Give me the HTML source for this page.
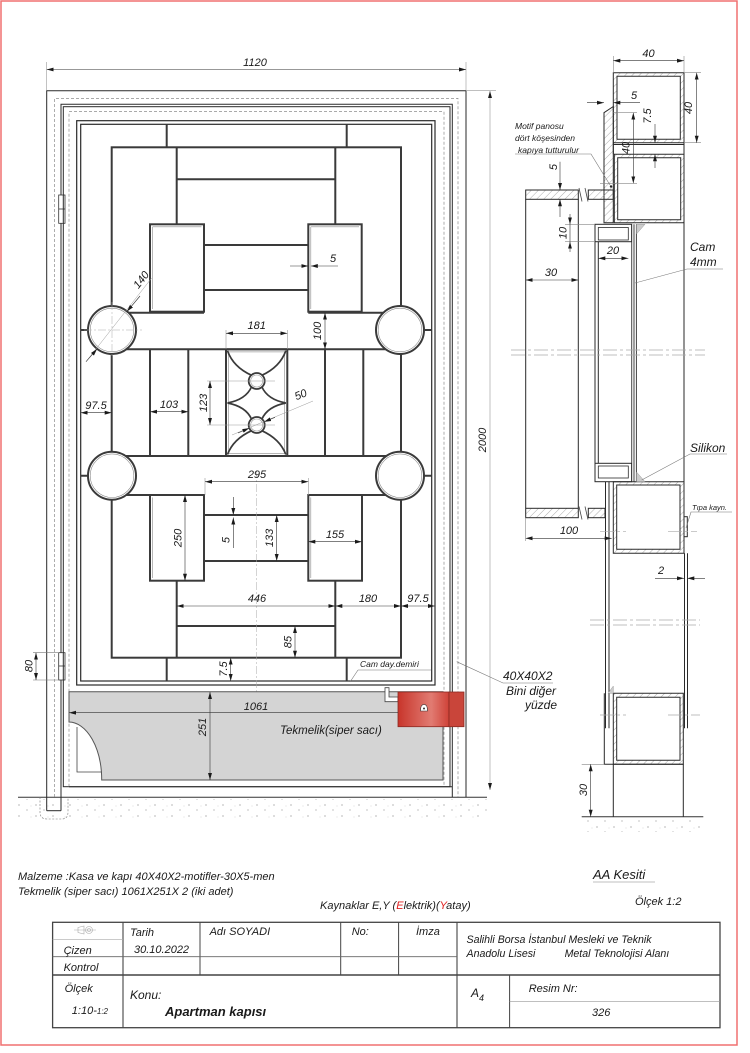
<!DOCTYPE html>
<html><head><meta charset="utf-8">
<style>
html,body{margin:0;padding:0;background:#fff;width:750px;height:1053px;overflow:hidden}
svg{display:block}
text{font-family:"Liberation Sans",sans-serif;font-style:italic;fill:#1a1a1a}
</style></head>
<body>
<svg width="750" height="1053" viewBox="0 0 750 1053" xmlns="http://www.w3.org/2000/svg">
<defs>
<marker id="ar" viewBox="0 0 10 10" refX="10" refY="5" markerWidth="7" markerHeight="7" markerUnits="userSpaceOnUse" orient="auto-start-reverse"><path d="M0,2.2 L10,5 L0,7.8z" fill="#1a1a1a"/></marker>
<pattern id="h" width="5" height="5" patternUnits="userSpaceOnUse" patternTransform="rotate(45)"><line x1="0" y1="0" x2="0" y2="5" stroke="#8a8a8a" stroke-width=".7"/></pattern>
<linearGradient id="red" x1="0" x2="1" y1="0" y2="0"><stop offset="0" stop-color="#c8352b"/><stop offset=".65" stop-color="#e17b72"/><stop offset="1" stop-color="#cf4238"/></linearGradient>
<pattern id="dots" width="17" height="11" patternUnits="userSpaceOnUse"><circle cx="2" cy="2" r=".6" fill="#888"/><circle cx="10" cy="7" r=".6" fill="#999"/><circle cx="14" cy="3" r=".4" fill="#aaa"/></pattern>
</defs>

<!-- page border -->
<rect x="1" y="1" width="736" height="1044" fill="none" stroke="#f07070" stroke-width="1.5"/>

<!-- ================= DOOR ELEVATION ================= -->
<rect x="18" y="799" width="469" height="19" fill="url(#dots)"/>
<line x1="18" y1="797.3" x2="487" y2="797.3" stroke="#333" stroke-width="1"/>
<path d="M40,797 V812 Q40,819 47,819 H62 Q68,819 68,812 V797" fill="none" stroke="#777" stroke-width=".6" stroke-dasharray="2 1.5"/>

<!-- frame -->
<g stroke="#2a2a2a" stroke-width="1" fill="none">
<path d="M46.7,810.7 V90.7 H466 V797.3"/>
<path d="M61,810.7 V104.3 H452.3 V797.3"/>
<path d="M46.7,810.7 H61"/>
</g>
<g stroke="#777" stroke-width=".6" fill="none" stroke-dasharray="3 2">
<path d="M54.7,797 V98.3 H458 V797"/>
</g>
<g stroke="#333" stroke-width=".8" fill="#fff">
<rect x="58.7" y="195" width="6.3" height="28.3"/><line x1="58.7" y1="209" x2="65" y2="209"/>
<rect x="58.7" y="652.7" width="6.3" height="27.3"/><line x1="58.7" y1="666" x2="65" y2="666"/>
</g>

<!-- door -->
<g stroke="#2a2a2a" stroke-width="1" fill="none">
<rect x="63.3" y="106.7" width="386.7" height="680"/>
<rect x="76.7" y="120.7" width="358.3" height="564.3" stroke-width="1.2"/>
<rect x="80.7" y="124.3" width="351" height="556.7" stroke-width="1.2"/>
</g>
<g stroke="#777" stroke-width=".6" fill="none" stroke-dasharray="3 2">
<path d="M69,786.7 V111.7 H444 V786.7"/>
</g>

<!-- motif bars -->
<g stroke="#3a3a3a" stroke-width="2" fill="none">
<path d="M166.7,124.3V147.3M346.7,124.3V147.3"/>
<rect x="111.7" y="147.3" width="289.3" height="510.4"/>
<path d="M176.7,147.3V224.3M335.3,147.3V224.3M176.7,179.3H335.3"/>
<rect x="150" y="224.3" width="54" height="87.4"/>
<rect x="308.3" y="224.3" width="53.4" height="87.4"/>
<path d="M204,245H308.3M204,290H308.3"/>
<path d="M112,312.7H204M308.3,312.7H400M112,349.3H400M112,456H400M112,495H204M308.3,495H400"/>
<path d="M150,349.3V456M188.3,349.3V456M325,349.3V456M363.3,349.3V456"/>
<rect x="226" y="349.3" width="61.3" height="106.7"/>
<rect x="150" y="495" width="54" height="85.7"/>
<rect x="308.3" y="495" width="53.7" height="85.7"/>
<path d="M204,515H308.3M204,561H308.3"/>
<path d="M176.7,580.7V657.7M335.3,580.7V657.7M176.7,626H335.3"/>
<path d="M166.7,657.7V681M346.7,657.7V681"/>
<path d="M80.7,330H88M424,330H431.7M80.7,475.7H88M424,475.7H431.7"/>
</g>
<g stroke="#888" stroke-width=".6" fill="none">
<path d="M152.6,226.8V309M152.6,226.8H201.5M310.8,226.8V309M310.8,226.8H359M152.6,497.5V578M310.8,497.5V578"/>
<rect x="228.6" y="351.9" width="56.1" height="101.5"/>
</g>
<!-- circles -->
<g stroke="#3a3a3a" fill="#fff">
<circle cx="112" cy="330" r="24" stroke-width="2"/>
<circle cx="400" cy="330" r="24" stroke-width="2"/>
<circle cx="112" cy="475.7" r="24" stroke-width="2"/>
<circle cx="400" cy="475.7" r="24" stroke-width="2"/>
</g>
<g stroke="#888" fill="none" stroke-width=".6">
<circle cx="112" cy="330" r="21.8"/><circle cx="400" cy="330" r="21.8"/>
<circle cx="112" cy="475.7" r="21.8"/><circle cx="400" cy="475.7" r="21.8"/>
</g>
<g stroke="#aaa" stroke-width=".5" stroke-dasharray="8 2 2 2">
<path d="M84,330H142M112,302V358"/>
<line x1="256.7" y1="470" x2="256.7" y2="712"/>
</g>
<!-- bow tie motif -->
<g stroke="#3a3a3a" stroke-width="1.7" fill="none">
<path d="M227.5,350.8 Q233.3,367 251.6,375.3M285.8,350.8 Q280,367 261.8,375.3"/>
<path d="M251.6,386.7 Q246,399.5 227.5,403M261.8,386.7 Q267.4,399.5 285.8,403"/>
<path d="M227.5,403 Q246,406.5 251.6,419.3M285.8,403 Q267.4,406.5 261.8,419.3"/>
<path d="M251.6,430.7 Q233.3,439 227.5,454.5M261.8,430.7 Q280,439 285.8,454.5"/>
</g>
<g stroke="#3a3a3a" fill="#fff" stroke-width="1.8">
<circle cx="256.7" cy="381" r="8"/><circle cx="256.7" cy="425" r="8"/>
</g>
<g stroke="#999" fill="none" stroke-width=".6">
<circle cx="256.7" cy="381" r="6"/><circle cx="256.7" cy="425" r="6"/>
</g>

<!-- tekmelik -->
<path d="M69,691.7 H443 V780 H101.7 A33,58 0 0 0 69,722 Z" fill="#d4d4d4" stroke="#555" stroke-width="1"/>
<path d="M77,727 V772 H101.7" fill="none" stroke="#444" stroke-width=".8"/>
<line x1="69" y1="786.7" x2="452" y2="786.7" stroke="#2a2a2a" stroke-width="1"/>

<!-- lock -->
<path d="M385,687.7 H389 V697 H398 V701.7 H385 Z" fill="#fff" stroke="#444" stroke-width=".8"/>
<rect x="398" y="692" width="51" height="34.7" fill="url(#red)" stroke="#8a2a22" stroke-width=".8"/>
<rect x="449" y="692" width="15" height="34.7" fill="#c9453a" stroke="#8a2a22" stroke-width=".8"/>
<path d="M420.5,711 Q420.5,704.5 424,704.5 Q427.5,704.5 427.5,711 Z" fill="#fff" stroke="#333" stroke-width=".6"/>
<circle cx="424" cy="708.5" r="1" fill="#333"/>

<!-- dimensions door -->
<g stroke="#333" stroke-width=".6" fill="none">
<path d="M46.7,62V90M466,62V90" stroke="#999"/>
<line x1="46.7" y1="69.5" x2="466" y2="69.5" marker-start="url(#ar)" marker-end="url(#ar)"/>
<line x1="86" y1="361.7" x2="151.7" y2="278" stroke="#999" stroke-width=".5"/>
<line x1="140" y1="296" x2="127" y2="311.5" marker-end="url(#ar)"/>
<line x1="86" y1="361.7" x2="97" y2="349" marker-end="url(#ar)"/>
<line x1="290" y1="266" x2="308.3" y2="266" marker-end="url(#ar)"/>
<line x1="338" y1="266" x2="310.8" y2="266" marker-end="url(#ar)"/>
<line x1="325" y1="312.7" x2="325" y2="349.3" marker-start="url(#ar)" marker-end="url(#ar)"/>
<path d="M226,330V349M287.3,330V349" stroke="#999"/>
<line x1="226" y1="333.3" x2="287.3" y2="333.3" marker-start="url(#ar)" marker-end="url(#ar)"/>
<line x1="80.7" y1="412.7" x2="111.7" y2="412.7" marker-start="url(#ar)" marker-end="url(#ar)"/>
<line x1="150" y1="411.7" x2="188.3" y2="411.7" marker-start="url(#ar)" marker-end="url(#ar)"/>
<path d="M207,381H275M207,425H275" stroke="#999"/>
<line x1="210" y1="381" x2="210" y2="425" marker-start="url(#ar)" marker-end="url(#ar)"/>
<line x1="232" y1="435" x2="313" y2="401" stroke="#999" stroke-width=".5"/>
<line x1="238" y1="433" x2="249.3" y2="428.1" marker-end="url(#ar)"/>
<line x1="275" y1="417.3" x2="264.1" y2="421.9" marker-end="url(#ar)"/>
<path d="M205,478V495M308.3,478V495" stroke="#999"/>
<line x1="205" y1="481.7" x2="308.3" y2="481.7" marker-start="url(#ar)" marker-end="url(#ar)"/>
<line x1="185" y1="495" x2="185" y2="580.7" marker-start="url(#ar)" marker-end="url(#ar)"/>
<line x1="233.3" y1="497" x2="233.3" y2="515" marker-end="url(#ar)"/>
<line x1="233.3" y1="548" x2="233.3" y2="517.5" marker-end="url(#ar)"/>
<line x1="276.7" y1="515" x2="276.7" y2="561" marker-start="url(#ar)" marker-end="url(#ar)"/>
<line x1="308.3" y1="541.7" x2="362" y2="541.7" marker-start="url(#ar)" marker-end="url(#ar)"/>
<line x1="176.7" y1="606" x2="335.3" y2="606" marker-start="url(#ar)" marker-end="url(#ar)"/>
<line x1="335.3" y1="606" x2="401" y2="606" marker-start="url(#ar)" marker-end="url(#ar)"/>
<line x1="401" y1="606" x2="435" y2="606" marker-start="url(#ar)" marker-end="url(#ar)"/>
<line x1="295" y1="626" x2="295" y2="657.7" marker-start="url(#ar)" marker-end="url(#ar)"/>
<line x1="230.7" y1="657.7" x2="230.7" y2="681" marker-start="url(#ar)" marker-end="url(#ar)"/>
<path d="M33,652.7H58M33,680H58" stroke="#777"/>
<line x1="36" y1="652.7" x2="36" y2="680" marker-start="url(#ar)" marker-end="url(#ar)"/>
<line x1="210" y1="692" x2="210" y2="780" marker-start="url(#ar)" marker-end="url(#ar)"/>
<line x1="69" y1="712.7" x2="398" y2="712.7" marker-start="url(#ar)"/>
<path d="M466,90.7H496" stroke="#999"/>
<line x1="490" y1="91" x2="490" y2="790" stroke="#999" marker-start="url(#ar)" marker-end="url(#ar)"/>
<path d="M358,670H431M358,670L350,682" stroke="#777"/>
<path d="M456.7,661.7L503,683H553" stroke="#777"/>
</g>
<g font-size="11" text-anchor="middle">
<text x="255" y="66">1120</text>
<text transform="translate(144,282) rotate(-52)">140</text>
<text x="333" y="262">5</text>
<text transform="translate(321,331) rotate(-90)">100</text>
<text x="256.7" y="329">181</text>
<text x="96" y="409">97.5</text>
<text x="169" y="408">103</text>
<text transform="translate(207,403) rotate(-90)">123</text>
<text transform="translate(302,398) rotate(-22)">50</text>
<text x="257" y="478">295</text>
<text transform="translate(181.5,538) rotate(-90)">250</text>
<text transform="translate(229.5,540) rotate(-90)">5</text>
<text transform="translate(273,538) rotate(-90)">133</text>
<text x="335" y="538">155</text>
<text x="257" y="602">446</text>
<text x="368" y="602">180</text>
<text x="418" y="602">97.5</text>
<text transform="translate(291.5,642) rotate(-90)">85</text>
<text transform="translate(227,669) rotate(-90)">7.5</text>
<text transform="translate(32.5,666) rotate(-90)">80</text>
<text transform="translate(206,727) rotate(-90)">251</text>
<text transform="translate(486,440) rotate(-90)">2000</text>
<text x="256" y="710">1061</text>
</g>
<text x="280" y="734" font-size="11.5">Tekmelik(siper sacı)</text>
<text x="360" y="667" font-size="8.5">Cam day.demiri</text>
<text x="503" y="680" font-size="12">40X40X2</text>
<text x="506" y="695" font-size="12">Bini diğer</text>
<text x="525" y="709" font-size="12">yüzde</text>

<!-- ================= SECTION AA ================= -->
<rect x="582" y="819" width="121" height="13" fill="url(#dots)"/>
<line x1="581.7" y1="816.7" x2="703.3" y2="816.7" stroke="#333" stroke-width="1"/>

<g stroke="#2a2a2a" stroke-width="1">
<path d="M613.3,72.7H684V142.7H613.3Z M617,76.3V139.3H680.3V76.3Z" fill="url(#h)" fill-rule="evenodd"/>
<path d="M613.3,144.5H684M613.3,142.7V154.3M684,142.7V154.3" fill="none"/>
<path d="M614.3,154.3H684V222.7H614.3Z M617.7,157.7H680.7V219.7H617.7Z" fill="url(#h)" fill-rule="evenodd"/>
<path d="M604,222.7V112.7L613.3,106.5V222.7Z" fill="url(#h)"/>
<rect x="525.7" y="190" width="52.6" height="9.3" fill="url(#h)"/>
<rect x="588.3" y="190" width="25" height="9.3" fill="url(#h)"/>
<rect x="525.7" y="508.3" width="52.6" height="9.4" fill="url(#h)"/>
<rect x="588.3" y="508.3" width="16.7" height="9.4" fill="url(#h)"/>
<path d="M525.7,199.3V508.3M578.3,199.3V508.3" fill="none"/>
<rect x="595" y="224.3" width="36.7" height="17.4" fill="#fff"/>
<rect x="598.3" y="227.5" width="30" height="12.5" fill="#fff" stroke-width=".8"/>
<rect x="595" y="463.3" width="36.7" height="18.4" fill="#fff"/>
<rect x="598.3" y="466" width="30" height="12" fill="#fff" stroke-width=".8"/>
<path d="M595,241.7V463.3M598.3,241.7V463.3" fill="none"/>
<rect x="631.7" y="224.3" width="4.8" height="257.4" fill="#eee" stroke="none"/>
<path d="M631.7,224.3V481.7M634,224.3V481.7M636.5,224.3V481.7" fill="none" stroke-width=".8"/>
<path d="M684,222.7V481.7" fill="none"/>
<path d="M613.3,481.7H684V553.3H613.3Z M616.7,485H680V549.3H616.7Z" fill="url(#h)" fill-rule="evenodd"/>
<path d="M605.5,481.7V728.3M609,481.7V728.3M684.5,553.3V728.3M687.5,553.3V728.3" fill="none"/>
<rect x="684" y="516.7" width="3.3" height="20" fill="#fff"/>
<path d="M613.3,693.3H683.3V764.3H613.3Z M616.7,697.3H680V760.3H616.7Z" fill="url(#h)" fill-rule="evenodd"/>
<path d="M604.3,693.3V764.3H683.3M613.3,764.3V816.7M683.3,764.3V816.7" fill="none"/>
</g>
<circle cx="611" cy="186.5" r="1.2" fill="#222"/>
<g fill="#ccc" stroke="#888" stroke-width=".4">
<path d="M636.5,224.3H645L636.5,234Z"/>
<path d="M636.5,481.7H645L636.5,472Z"/>
<path d="M613.3,693.3L613.3,686L608,693.3Z"/>
</g>
<g stroke="#444" stroke-width=".8" fill="none">
<path d="M579,188 L582,201.5M585,188 L588,201.5"/>
<path d="M579,506.5 L582,519.5M585,506.5 L588,519.5"/>
</g>
<g stroke="#aaa" stroke-width=".7" stroke-dasharray="14 3 3 3" fill="none">
<path d="M511,350H705M511,355H705"/>
<path d="M590,620H700M590,625H700"/>
<path d="M600,531.7H626M668,531.7H697"/>
<path d="M600,715H626M668,715H700"/>
</g>
<g stroke="#333" stroke-width=".6" fill="none">
<path d="M613.3,56V72.7M684,56V72.7" stroke="#888"/>
<line x1="613.3" y1="60.7" x2="684" y2="60.7" marker-start="url(#ar)" marker-end="url(#ar)"/>
<path d="M684,72.7H701M684,142.7H701" stroke="#888"/>
<line x1="696.7" y1="72.7" x2="696.7" y2="142.7" marker-start="url(#ar)" marker-end="url(#ar)"/>
<line x1="587" y1="102.7" x2="604" y2="102.7" marker-end="url(#ar)"/>
<line x1="640" y1="102.7" x2="613.3" y2="102.7" marker-end="url(#ar)"/>
<line x1="655" y1="124" x2="655" y2="142.7" marker-end="url(#ar)"/>
<line x1="655" y1="168" x2="655" y2="154.3" marker-end="url(#ar)"/>
<path d="M613.3,112.7H637M600,183.3H637" stroke="#888"/>
<line x1="633.3" y1="112.7" x2="633.3" y2="183.3" marker-start="url(#ar)" marker-end="url(#ar)"/>
<line x1="560" y1="161.7" x2="560" y2="190" marker-end="url(#ar)"/>
<line x1="560" y1="217" x2="560" y2="199.3" marker-end="url(#ar)"/>
<path d="M565,224.3H595M565,241.7H595" stroke="#888"/>
<line x1="570" y1="214" x2="570" y2="224.3" marker-end="url(#ar)"/>
<line x1="570" y1="252" x2="570" y2="241.7" marker-end="url(#ar)"/>
<line x1="570" y1="224.3" x2="570" y2="241.7"/>
<line x1="598.3" y1="258.3" x2="628.3" y2="258.3" marker-start="url(#ar)" marker-end="url(#ar)"/>
<line x1="525.7" y1="280" x2="578.3" y2="280" marker-start="url(#ar)" marker-end="url(#ar)"/>
<path d="M525.7,517.7V541" stroke="#888"/>
<line x1="525.7" y1="538.3" x2="611.7" y2="538.3" marker-start="url(#ar)" marker-end="url(#ar)"/>
<line x1="655" y1="578.3" x2="684" y2="578.3" marker-end="url(#ar)"/>
<line x1="705" y1="578.3" x2="687.3" y2="578.3" marker-end="url(#ar)"/>
<path d="M581.7,764.3H604.3" stroke="#888"/>
<line x1="590.7" y1="764.3" x2="590.7" y2="816.7" marker-start="url(#ar)" marker-end="url(#ar)"/>
<path d="M515,154H591L610,185" stroke="#777"/>
<path d="M635,283L687,269H723" stroke="#777"/>
<path d="M641.7,480L690,454H727" stroke="#777"/>
<path d="M686,528L691,512H732" stroke="#777"/>
</g>
<g font-size="11" text-anchor="middle">
<text x="648.5" y="57">40</text>
<text transform="translate(692,108) rotate(-90)">40</text>
<text x="634" y="99">5</text>
<text transform="translate(651,116) rotate(-90)">7.5</text>
<text transform="translate(629.5,148) rotate(-90)">40</text>
<text transform="translate(557,167) rotate(-90)">5</text>
<text transform="translate(566.5,233) rotate(-90)">10</text>
<text x="613" y="254">20</text>
<text x="551" y="276">30</text>
<text x="569" y="534">100</text>
<text x="661" y="574">2</text>
<text transform="translate(587,790) rotate(-90)">30</text>
</g>
<text x="515" y="129" font-size="8.5">Motif panosu</text>
<text x="515" y="141" font-size="8.5">dört köşesinden</text>
<text x="518" y="153" font-size="8.5">kapıya tutturulur</text>
<text x="690" y="251" font-size="12">Cam</text>
<text x="690" y="266" font-size="12">4mm</text>
<text x="690" y="452" font-size="12">Silikon</text>
<text x="692" y="510" font-size="7.5">Tıpa kayn.</text>

<!-- ================= TITLE AREA ================= -->
<text x="18" y="880" font-size="11">Malzeme :Kasa ve kapı 40X40X2-motifler-30X5-men</text>
<text x="18" y="895" font-size="11">Tekmelik (siper sacı) 1061X251X 2 (iki adet)</text>
<text x="320" y="909" font-size="11">Kaynaklar E,Y (<tspan fill="#e02020">E</tspan>lektrik)(<tspan fill="#e02020">Y</tspan>atay)</text>
<text x="593" y="879" font-size="13">AA Kesiti</text>
<line x1="593" y1="882" x2="655" y2="882" stroke="#aaa" stroke-width=".8"/>
<text x="635" y="905" font-size="11">Ölçek 1:2</text>

<g stroke="#444" fill="none">
<rect x="52.6" y="922.3" width="667.4" height="105.4" stroke-width="1.3"/>
<path d="M123,922.3V1027.7M457,922.3V1027.7" stroke-width="1.1"/>
<path d="M200,922.3V975M340.7,922.3V975M398.6,922.3V975M509.6,975V1027.7" stroke-width="1"/>
<path d="M52.6,939.3H123" stroke="#aaa" stroke-width=".7"/>
<path d="M52.6,956.7H457" stroke="#666" stroke-width=".8"/>
<path d="M52.6,975H720" stroke-width="1.4"/>
<path d="M509.6,1001.7H720" stroke="#999" stroke-width=".7"/>
</g>
<g stroke="#aaa" stroke-width=".6" fill="none">
<path d="M78,927.5L84,926V934L78,932.5Z"/>
<circle cx="89" cy="930" r="3.5"/><circle cx="89" cy="930" r="1.5"/>
<path d="M74,930H96"/>
</g>
<g font-size="11">
<text x="130" y="936">Tarih</text>
<text x="209.6" y="935">Adı SOYADI</text>
<text x="351.7" y="935">No:</text>
<text x="416" y="935">İmza</text>
<text x="63.6" y="954">Çizen</text>
<text x="134" y="953">30.10.2022</text>
<text x="63.6" y="971">Kontrol</text>
<text x="466.5" y="943" font-size="10.6">Salihli Borsa İstanbul Mesleki ve Teknik</text>
<text x="466.5" y="957" font-size="10.6">Anadolu Lisesi</text>
<text x="564.6" y="957" font-size="10.6">Metal Teknolojisi Alanı</text>
<text x="64.6" y="992">Ölçek</text>
<text x="71.8" y="1014">1:10-<tspan font-size="8">1:2</tspan></text>
<text x="130" y="999" font-size="12">Konu:</text>
<text x="165" y="1016" font-size="13" font-weight="bold">Apartman kapısı</text>
<text x="471" y="997" font-size="12">A<tspan font-size="9" dy="4">4</tspan></text>
<text x="528.7" y="992">Resim Nr:</text>
<text x="592" y="1016">326</text>
</g>
</svg>
</body></html>
